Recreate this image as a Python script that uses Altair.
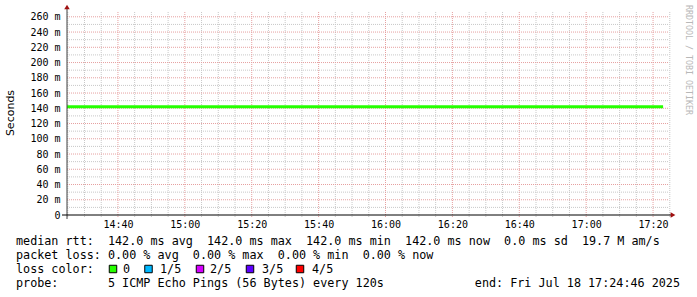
import altair as alt
import pandas as pd

# ---------------- data ----------------
rtt_times = ["2025-07-18T14:24:46Z", "2025-07-18T17:23:00Z"]
rtt_ms = [142.0, 142.0]

y_ticks = [0, 20, 40, 60, 80, 100, 120, 140, 160, 180, 200, 220, 240, 260]
y_minor = [10, 30, 50, 70, 90, 110, 130, 150, 170, 190, 210, 230, 250]

x_major = ["14:40", "15:00", "15:20", "15:40", "16:00", "16:20", "16:40", "17:00", "17:20"]
x_minor = ["14:25", "14:30", "14:35", "14:45", "14:50", "14:55", "15:05", "15:10", "15:15",
           "15:25", "15:30", "15:35", "15:45", "15:50", "15:55", "16:05", "16:10", "16:15",
           "16:25", "16:30", "16:35", "16:45", "16:50", "16:55", "17:05", "17:10", "17:15",
           "17:25"]

loss_labels = ["0", "1/5", "2/5", "3/5", "4/5"]
loss_colors = ["#26ff00", "#00b8ff", "#d500ff", "#5e00ff", "#ff0000"]

line1 = "median rtt:  142.0 ms avg  142.0 ms max  142.0 ms min  142.0 ms now  0.0 ms sd  19.7 M am/s"
line2 = "packet loss: 0.00 % avg  0.00 % max  0.00 % min  0.00 % now"
line3 = "loss color:"
line4 = "probe:       5 ICMP Echo Pings (56 Bytes) every 120s"
end_text = "end: Fri Jul 18 17:24:46 2025"
y_title = "Seconds"
watermark = "RRDTOOL / TOBI OETIKER"

# ---------------- layout ----------------
W, H = 602, 203
MONO = "DejaVu Sans Mono"
DAY = "2025-07-18T"
NB = "\u00a0"


def iso(hm):
    return DAY + hm + ":00Z"


def dt(h, m, s):
    return alt.DateTime(year=2025, month=7, date=18, hours=h, minutes=m, seconds=s, utc=True)


xscale = alt.Scale(type="utc", domain=[dt(14, 24, 46), dt(17, 24, 46)])
yscale = alt.Scale(domain=[0, 266.3], nice=False, zero=True)

x_axis = alt.Axis(values=[dt(int(s[:2]), int(s[3:]), 0) for s in x_major],
                  labelExpr="utcFormat(datum.value, '%H:%M')",
                  orient="bottom", title=None,
                  domain=False, ticks=False, grid=False,
                  labelFont=MONO, labelFontSize=10, labelColor="black",
                  labelPadding=4)
y_axis = alt.Axis(values=y_ticks,
                  labelExpr="datum.value == 0 ? '0" + NB + NB + "' : datum.value + ' m'",
                  orient="left", title=None,
                  domain=False, ticks=False, grid=False,
                  labelFont=MONO, labelFontSize=10, labelColor="black",
                  labelPadding=7)

rtt_df = pd.DataFrame({"t": rtt_times, "v": rtt_ms})
xmaj_df = pd.DataFrame({"t": [iso(s) for s in x_major]})
xmin_df = pd.DataFrame({"t": [iso(s) for s in x_minor]})
ymaj_df = pd.DataFrame({"v": y_ticks[1:]})
ymin_df = pd.DataFrame({"v": y_minor})

GRID_MINOR = "#c8c8c8"
GRID_MAJOR = "#e6a0a0"

X = lambda: alt.X("t:T", scale=xscale, axis=x_axis, title=None)
Y = lambda: alt.Y("v:Q", scale=yscale, axis=y_axis, title=None)

hminor = alt.Chart(ymin_df).mark_rule(color=GRID_MINOR, strokeDash=[1, 1], strokeWidth=1).encode(
    y=Y(), x=alt.value(0), x2=alt.value(W))
hmajor = alt.Chart(ymaj_df).mark_rule(color=GRID_MAJOR, strokeDash=[1, 1], strokeWidth=1).encode(
    y=Y(), x=alt.value(0), x2=alt.value(W))
vminor = alt.Chart(xmin_df).mark_rule(color=GRID_MINOR, strokeDash=[1, 1], strokeWidth=1).encode(
    x=X(), y=alt.value(0), y2=alt.value(H + 3))
vmajor = alt.Chart(xmaj_df).mark_rule(color=GRID_MAJOR, strokeDash=[1, 1], strokeWidth=1).encode(
    x=X(), y=alt.value(0), y2=alt.value(H + 3))

line = alt.Chart(rtt_df).mark_line(color="#26ff00", strokeWidth=3, strokeCap="butt").encode(
    x=X(), y=Y())

one = alt.Data(values=[{}])

yaxis_line = alt.Chart(one).mark_rule(color="#404040", strokeWidth=1).encode(
    x=alt.value(0), y=alt.value(-4), y2=alt.value(H + 4))
xaxis_line = alt.Chart(one).mark_rule(color="black", strokeWidth=1).encode(
    x=alt.value(-5), x2=alt.value(W + 2), y=alt.value(H))
arrow_up = alt.Chart(one).mark_point(shape="triangle-up", filled=True, size=30, color="#a01010", opacity=1).encode(
    x=alt.value(0), y=alt.value(-5))
arrow_right = alt.Chart(one).mark_point(shape="triangle-right", filled=True, size=30, color="#a01010", opacity=1).encode(
    x=alt.value(W + 4), y=alt.value(H))

LEG = 11.75


def txt(text, x, y, size=LEG, align="left", color="black", font=MONO, angle=0):
    return alt.Chart(one).mark_text(text=text.replace(" ", NB), align=align, baseline="middle", font=font,
                                    fontSize=size, color=color, angle=angle).encode(
        x=alt.value(x), y=alt.value(y))


texts = [
    txt(y_title, -56, 101, size=11, align="center", font="DejaVu Sans", angle=270),
    txt(watermark, 621, 48, size=8.3, align="center", color="#b8b8b8", angle=90),
    txt(line1, -51, 229),
    txt(line2, -51, 243),
    txt(line3, -51, 257),
    txt(line4, -51, 271),
    txt(end_text, 613, 271, align="right"),
]

box_x = [46, 81.5, 133, 183, 233]
lab_x = [56, 93, 143, 195, 245]
boxes = []
for c, lab, bx, lx in zip(loss_colors, loss_labels, box_x, lab_x):
    boxes.append(alt.Chart(one).mark_square(size=56, fill=c, stroke="black", strokeWidth=1, opacity=1).encode(
        x=alt.value(bx), y=alt.value(257)))
    boxes.append(txt(lab, lx, 257))

chart = alt.layer(
    hminor, vminor, hmajor, vmajor, line, yaxis_line, xaxis_line, arrow_up, arrow_right,
    *texts, *boxes
).properties(
    width=W, height=H,
    autosize=alt.AutoSizeParams(type="none"),
    padding={"left": 67, "top": 12, "right": 28, "bottom": 82},
    background="white",
).configure_view(stroke=None)

chart.save("out.html", embed_options={"renderer": "svg", "actions": False})
